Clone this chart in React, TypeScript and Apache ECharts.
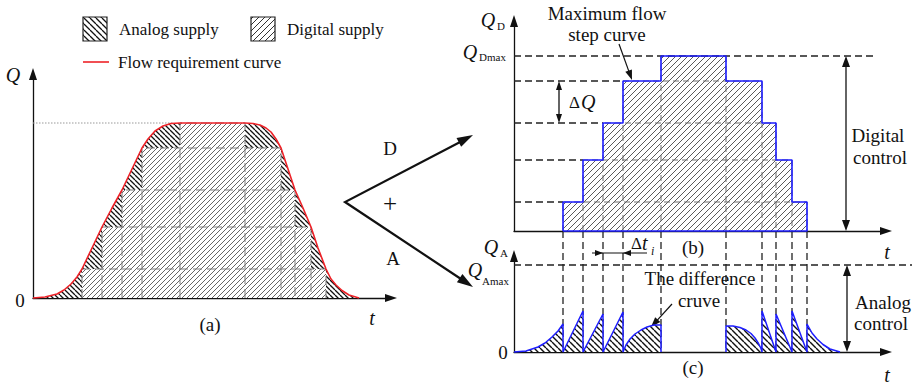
import React, { useEffect, useRef } from 'react';
import * as echarts from 'echarts';

// Time in tenths of the control period, flow in relative units (same scale in all panels)
const STEP_UP = [4.9, 6.9, 8.9, 10.9, 14.7];      // instant each digital level switches on
const STEP_DOWN = [29.3, 27.8, 26.2, 24.8, 21.2]; // instant each digital level switches off
const LEVELS = [2.9, 7.1, 10.8, 15.0, 17.5];      // digital flow levels, the last one is Q_Dmax
const Q_AMAX = 8.7;
const PLATEAU_START = 14.0;

// Flow requirement curve
const DEMAND: [number, number][] = [
  [0, 0], [1.2, 0.1], [2.4, 0.4], [3.1, 0.8], [3.8, 1.4], [4.4, 2.1], [4.9, 2.9], [5.9, 5.0],
  [6.9, 7.1], [7.9, 9.0], [8.9, 10.8], [9.9, 12.9], [10.9, 15.0], [11.5, 15.9], [12.2, 16.7],
  [13.0, 17.2], [13.8, 17.45], [14.7, 17.5], [21.2, 17.5], [22.0, 17.45], [22.7, 17.3],
  [23.3, 17.0], [23.8, 16.6], [24.3, 15.9], [24.8, 15.0], [25.5, 12.9], [26.2, 10.8],
  [27.0, 9.0], [27.8, 7.1], [28.5, 5.0], [29.3, 2.9], [29.8, 1.9], [30.3, 1.3], [30.9, 0.75],
  [31.6, 0.3], [32.6, 0],
];

// Difference curve (analog share), rising part
const DIFF_RISE: [number, number][] = [
  [0, 0], [1.2, 0.1], [2.4, 0.5], [3.1, 0.9], [3.8, 1.5], [4.4, 2.1], [4.9, 2.8], [4.9, 0],
  [6.9, 4.1], [6.9, 0], [8.9, 3.8], [8.9, 0], [10.9, 4.0], [10.9, 0], [11.2, 0.7], [11.6, 1.3],
  [12.1, 1.8], [12.7, 2.2], [13.3, 2.5], [14.0, 2.7], [14.7, 2.7], [14.7, 0],
];

// Difference curve, falling part
const DIFF_FALL: [number, number][] = [
  [21.2, 0], [21.2, 2.6], [21.9, 2.6], [22.6, 2.45], [23.2, 2.2], [23.7, 1.85], [24.1, 1.4],
  [24.45, 0.85], [24.7, 0.35], [24.8, 0], [24.8, 4.1], [26.2, 0], [26.2, 3.8], [27.8, 0],
  [27.8, 4.1], [29.3, 0], [29.3, 2.8], [29.8, 1.9], [30.3, 1.3], [30.9, 0.75], [31.6, 0.3],
  [32.6, 0],
];

const QDMAX_GUIDE_END = 36.3;
const QAMAX_GUIDE_END = 39.8;
const DIGITAL_ARROW: [number, number, number][] = [[33.2, 0, 17.5]];
const DELTA_Q_ARROW: [number, number, number][] = [[4.5, 10.8, 15.0]];
const ANALOG_ARROW: [number, number, number][] = [[33.3, 0, 8.7]];
const DELTA_T: [number, number][] = [[8.9, 10.9]];

// Layout (pixels)
const GRID_A = { left: 33, top: 74, width: 358, height: 224 };
const GRID_B = { left: 514, top: 21, width: 372, height: 210 };
const GRID_C = { left: 514, top: 256, width: 372, height: 96 };
const DT_Y = 253;

const SERIF = '"Liberation Serif", "Times New Roman", serif';
const INK = '#111';
const BLUE = '#1e1eff';
const RED = '#ee2228';

function hatch(step: number, forward: boolean, color: string, width: number) {
  const c = document.createElement('canvas');
  c.width = step;
  c.height = step;
  const g = c.getContext('2d');
  if (g) {
    g.fillStyle = '#ffffff';
    g.fillRect(0, 0, step, step);
    g.strokeStyle = color;
    g.lineWidth = width;
    g.beginPath();
    for (let k = -1; k <= 1; k++) {
      const o = k * step;
      if (forward) {
        g.moveTo(o, step);
        g.lineTo(o + step, 0);
      } else {
        g.moveTo(o, 0);
        g.lineTo(o + step, step);
      }
    }
    g.stroke();
  }
  return { image: c, repeat: 'repeat', imageWidth: step, imageHeight: step };
}

function stepOutline(closed: boolean): [number, number][] {
  const pts: [number, number][] = [[STEP_UP[0], 0]];
  for (let k = 0; k < LEVELS.length; k++) {
    pts.push([STEP_UP[k], LEVELS[k]]);
    const next = k + 1 < LEVELS.length ? STEP_UP[k + 1] : STEP_DOWN[k];
    pts.push([next, LEVELS[k]]);
  }
  for (let k = LEVELS.length - 2; k >= 0; k--) {
    pts.push([STEP_DOWN[k + 1], LEVELS[k]]);
    pts.push([STEP_DOWN[k], LEVELS[k]]);
  }
  pts.push([STEP_DOWN[0], 0]);
  if (closed) pts.push([STEP_UP[0], 0]);
  return pts;
}

function head(tip: number[], from: number[], len: number, w: number, color: string) {
  const dx = tip[0] - from[0];
  const dy = tip[1] - from[1];
  const d = Math.hypot(dx, dy) || 1;
  const ux = dx / d;
  const uy = dy / d;
  const bx = tip[0] - ux * len;
  const by = tip[1] - uy * len;
  return {
    type: 'polygon',
    shape: { points: [[tip[0], tip[1]], [bx - (uy * w) / 2, by + (ux * w) / 2], [bx + (uy * w) / 2, by - (ux * w) / 2]] },
    style: { fill: color },
  };
}

function arrowEls(x1: number, y1: number, x2: number, y2: number, len: number, w: number, lw: number, both = false) {
  const dx = x2 - x1;
  const dy = y2 - y1;
  const d = Math.hypot(dx, dy) || 1;
  const ux = dx / d;
  const uy = dy / d;
  const s = both ? len * 0.6 : 0;
  const els: any[] = [
    {
      type: 'line',
      shape: { x1: x1 + ux * s, y1: y1 + uy * s, x2: x2 - ux * len * 0.6, y2: y2 - uy * len * 0.6 },
      style: { stroke: INK, lineWidth: lw },
    },
    head([x2, y2], [x1, y1], len, w, INK),
  ];
  if (both) els.push(head([x1, y1], [x2, y2], len, w, INK));
  return els;
}

function txt(text: string, x: number, y: number, size: number, opts: any = {}) {
  const align = opts.align || 'center';
  return {
    type: 'text',
    x,
    y,
    z: 20,
    silent: true,
    style: {
      text,
      font: `${opts.italic ? 'italic ' : ''}${size}px ${SERIF}`,
      fill: INK,
      align,
      textAlign: align,
      verticalAlign: 'middle',
      textVerticalAlign: 'middle',
    },
  };
}

function axis(gridIndex: number, max: number) {
  return {
    type: 'value',
    gridIndex,
    min: 0,
    max,
    axisLine: {
      show: true,
      onZero: false,
      symbol: ['none', 'triangle'],
      symbolSize: [8, 12],
      lineStyle: { color: INK, width: 1.3 },
    },
    axisTick: { show: false },
    axisLabel: { show: false },
    splitLine: { show: false },
  };
}

// Stacked level rectangles drawn as dashed outlines
function levelFrames(axisIdx: number, color: string, dash: number[], z: number) {
  return {
    type: 'custom',
    xAxisIndex: axisIdx,
    yAxisIndex: axisIdx,
    clip: false,
    silent: true,
    z,
    data: LEVELS.map((lv, k) => [STEP_UP[k], lv, STEP_DOWN[k]]),
    encode: { x: [0, 2], y: 1 },
    renderItem: (_p: any, api: any) => {
      const t0 = api.value(0);
      const lv = api.value(1);
      const t1 = api.value(2);
      return {
        type: 'polyline',
        shape: { points: [api.coord([t0, 0]), api.coord([t0, lv]), api.coord([t1, lv]), api.coord([t1, 0])] },
        style: { stroke: color, lineWidth: 1, lineDash: dash, fill: null },
      };
    },
  };
}

// Horizontal guide from the Q axis to a given time
function guides(axisIdx: number, data: [number, number][], style: any, z: number) {
  return {
    type: 'custom',
    xAxisIndex: axisIdx,
    yAxisIndex: axisIdx,
    clip: false,
    silent: true,
    z,
    data,
    encode: { x: 1, y: 0 },
    renderItem: (_p: any, api: any) => {
      const lv = api.value(0);
      const a = api.coord([0, lv]);
      const b = api.coord([api.value(1), lv]);
      return { type: 'line', shape: { x1: a[0], y1: a[1], x2: b[0], y2: b[1] }, style };
    },
  };
}

function doubleArrows(axisIdx: number, data: [number, number, number][], len: number, w: number, z: number) {
  return {
    type: 'custom',
    xAxisIndex: axisIdx,
    yAxisIndex: axisIdx,
    clip: false,
    silent: true,
    z,
    data,
    encode: { x: 0, y: [1, 2] },
    renderItem: (_p: any, api: any) => {
      const t = api.value(0);
      const a = api.coord([t, api.value(1)]);
      const b = api.coord([t, api.value(2)]);
      return { type: 'group', children: arrowEls(a[0], a[1], b[0], b[1], len, w, 1.3, true) };
    },
  };
}

function buildOption() {
  const analogA = hatch(5, false, '#111', 1.3);
  const digitalA = hatch(5, true, '#555', 0.9);
  const digitalB = hatch(6, true, '#5a5a5a', 1.0);
  const analogC = hatch(6, false, '#111', 1.4);
  const analogLegend = hatch(6, false, '#111', 1.3);
  const digitalLegend = hatch(6, true, '#333', 1.0);

  const lineBase = { type: 'line', showSymbol: false, symbol: 'none', clip: false, silent: true, smooth: false };
  const stepPts = stepOutline(false);
  const stepClosed = stepOutline(true);

  const series: any[] = [
    // (a) flow requirement with analog share beneath it
    { ...lineBase, xAxisIndex: 0, yAxisIndex: 0, z: 1, data: DEMAND, lineStyle: { width: 0 }, areaStyle: { color: analogA, opacity: 1 } },
    { ...lineBase, xAxisIndex: 0, yAxisIndex: 0, z: 2, data: stepPts, lineStyle: { width: 0 }, areaStyle: { color: digitalA, opacity: 1 } },
    levelFrames(0, '#7a7a7a', [9, 5], 3),
    guides(0, [[LEVELS[4], PLATEAU_START]], { stroke: '#999', lineWidth: 1, lineDash: [1.5, 1.5] }, 3),
    { ...lineBase, xAxisIndex: 0, yAxisIndex: 0, z: 4, data: DEMAND, lineStyle: { width: 1.6, color: RED } },

    // (b) maximum flow step curve
    { ...lineBase, xAxisIndex: 1, yAxisIndex: 1, z: 2, data: stepPts, lineStyle: { width: 0 }, areaStyle: { color: digitalB, opacity: 1 } },
    levelFrames(1, '#6a6a6a', [6, 4], 3),
    guides(
      1,
      [
        [LEVELS[0], STEP_UP[0]],
        [LEVELS[1], STEP_UP[1]],
        [LEVELS[2], STEP_UP[2]],
        [LEVELS[3], STEP_UP[3]],
        [LEVELS[4], QDMAX_GUIDE_END],
      ],
      { stroke: '#222', lineWidth: 1.3, lineDash: [7, 4] },
      3
    ),
    { ...lineBase, xAxisIndex: 1, yAxisIndex: 1, z: 4, data: stepClosed, lineStyle: { width: 1.6, color: BLUE } },
    doubleArrows(1, DIGITAL_ARROW, 11, 8, 5),
    doubleArrows(1, DELTA_Q_ARROW, 9, 6, 5),

    // (c) switching instants carried down from (b)
    {
      type: 'custom',
      xAxisIndex: 2,
      yAxisIndex: 2,
      clip: false,
      silent: true,
      z: 1,
      data: STEP_UP.concat(STEP_DOWN).map((t) => [t, 0]),
      encode: { x: 0, y: 1 },
      renderItem: (_p: any, api: any) => {
        const p = api.coord([api.value(0), 0]);
        return {
          type: 'line',
          shape: { x1: p[0], y1: GRID_B.top + GRID_B.height, x2: p[0], y2: p[1] },
          style: { stroke: '#222', lineWidth: 1.3, lineDash: [7, 4] },
        };
      },
    },
    { ...lineBase, xAxisIndex: 2, yAxisIndex: 2, z: 2, data: DIFF_RISE, lineStyle: { width: 1.5, color: BLUE }, areaStyle: { color: analogC, opacity: 1 } },
    { ...lineBase, xAxisIndex: 2, yAxisIndex: 2, z: 2, data: DIFF_FALL, lineStyle: { width: 1.5, color: BLUE }, areaStyle: { color: analogC, opacity: 1 } },
    guides(2, [[Q_AMAX, QAMAX_GUIDE_END]], { stroke: '#222', lineWidth: 1.3, lineDash: [7, 4] }, 3),
    doubleArrows(2, ANALOG_ARROW, 11, 8, 5),
    {
      type: 'custom',
      xAxisIndex: 2,
      yAxisIndex: 2,
      clip: false,
      silent: true,
      z: 5,
      data: DELTA_T,
      encode: { x: [0, 1] },
      renderItem: (_p: any, api: any) => {
        const xa = api.coord([api.value(0), 0])[0];
        const xb = api.coord([api.value(1), 0])[0];
        return {
          type: 'group',
          children: [
            { type: 'line', shape: { x1: xa - 11, y1: DT_Y, x2: xb + 24, y2: DT_Y }, style: { stroke: INK, lineWidth: 1.1 } },
            head([xa, DT_Y], [xa - 10, DT_Y], 8, 6, INK),
            head([xb, DT_Y], [xb + 10, DT_Y], 8, 6, INK),
          ],
        };
      },
    },
  ];

  // centre splitter arrows: D (up) and A (down)
  const vx = 345;
  const vy = 202;
  const middle: any[] = [
    {
      type: 'polyline',
      shape: { points: [[464, 140], [vx, vy], [464, 281]] },
      style: { stroke: INK, lineWidth: 2.2, fill: null, lineJoin: 'miter' },
    },
    head([473, 135], [vx, vy], 16, 10, INK),
    head([473, 287], [vx, vy], 16, 10, INK),
  ];

  const graphics: any[] = [
    // legend
    { type: 'rect', shape: { x: 83, y: 17, width: 24, height: 24 }, style: { fill: analogLegend, stroke: '#222', lineWidth: 1.2 } },
    txt('Analog supply', 119, 29, 17, { align: 'left' }),
    { type: 'rect', shape: { x: 251, y: 17, width: 24, height: 24 }, style: { fill: digitalLegend, stroke: '#222', lineWidth: 1.2 } },
    txt('Digital supply', 287, 29, 17, { align: 'left' }),
    { type: 'line', shape: { x1: 83, y1: 62, x2: 109, y2: 62 }, style: { stroke: RED, lineWidth: 1.6 } },
    txt('Flow requirement curve', 118, 62, 17, { align: 'left' }),

    // (a)
    txt('Q', 13, 75, 20, { italic: true }),
    txt('0', 20, 300, 19),
    txt('t', 372, 318, 20, { italic: true }),
    txt('(a)', 210, 324, 19),

    // centre
    ...middle,
    txt('D', 390, 148, 19),
    txt('+', 390, 203, 25),
    txt('A', 393, 258, 19),

    // (b)
    txt('Q', 488, 20, 20, { italic: true }),
    txt('D', 497, 26, 11, { align: 'left' }),
    txt('Q', 470, 52, 20, { italic: true }),
    txt('Dmax', 479, 57, 11, { align: 'left' }),
    txt('Maximum flow', 607, 13, 19),
    txt('step curve', 607, 34, 19),
    ...arrowEls(619, 44, 632, 80, 10, 7, 1.2),
    txt('\u0394', 569, 102, 17, { align: 'left' }),
    txt('Q', 581, 102, 20, { italic: true, align: 'left' }),
    txt('Digital', 878, 135, 19),
    txt('control', 880, 157, 19),
    txt('t', 887, 252, 20, { italic: true }),
    txt('(b)', 693, 247, 19),

    // (c)
    txt('Q', 491, 247, 20, { italic: true }),
    txt('A', 500, 253, 11, { align: 'left' }),
    txt('Q', 475, 270, 20, { italic: true }),
    txt('Amax', 482, 281, 11, { align: 'left' }),
    txt('0', 503, 352, 19),
    txt('\u0394', 631, 243, 17, { align: 'left' }),
    txt('t', 642, 243, 20, { italic: true, align: 'left' }),
    txt('i', 651, 251, 12, { italic: true, align: 'left' }),
    txt('The difference', 700, 278, 19),
    txt('cruve', 699, 300, 19),
    ...arrowEls(672, 304, 651, 327, 10, 7, 1.2),
    txt('Analog', 883, 302, 19),
    txt('control', 881, 323, 19),
    txt('t', 887, 375, 20, { italic: true }),
    txt('(c)', 693, 367, 19),
  ];

  return {
    animation: false,
    backgroundColor: '#ffffff',
    grid: [
      { ...GRID_A, containLabel: false },
      { ...GRID_B, containLabel: false },
      { ...GRID_C, containLabel: false },
    ],
    xAxis: [axis(0, 35.8), axis(1, 37.2), axis(2, 37.2)],
    yAxis: [axis(0, 22.4), axis(1, 21.0), axis(2, 9.6)],
    series,
    graphic: { elements: graphics },
  };
}

export default function App() {
  const ref = useRef<HTMLDivElement>(null);
  useEffect(() => {
    if (!ref.current) return;
    const chart = echarts.init(ref.current, undefined, { renderer: 'svg' });
    chart.setOption(buildOption() as any);
    return () => chart.dispose();
  }, []);
  return (
    <div
      ref={ref}
      style={{ position: 'absolute', left: 0, top: 0, width: 916, height: 387, background: '#fff' }}
    />
  );
}
